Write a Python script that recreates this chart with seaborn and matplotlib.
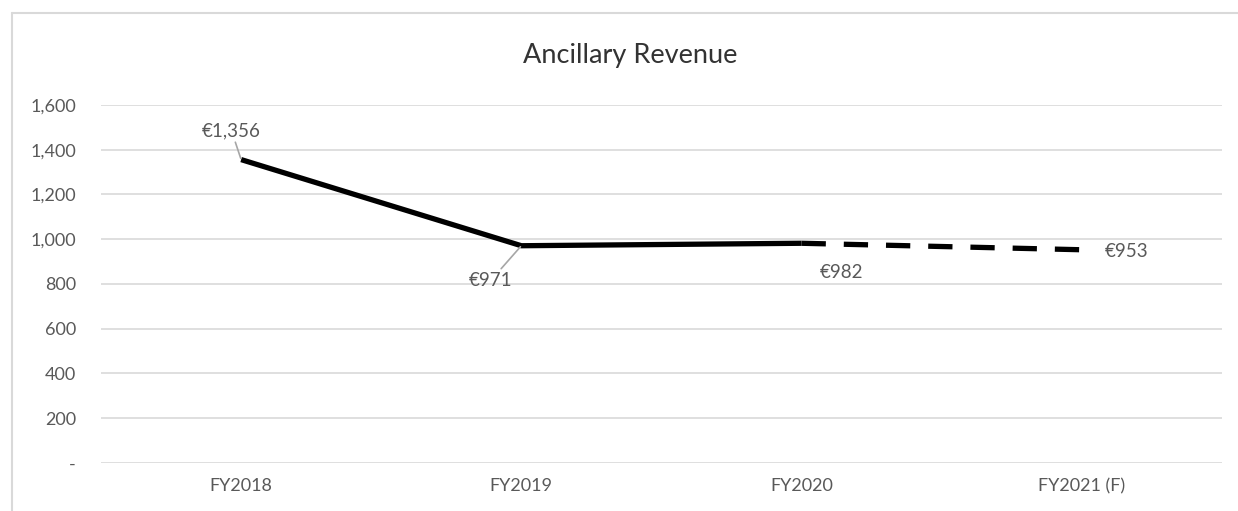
import numpy as np
import pandas as pd
import seaborn as sns
import matplotlib.pyplot as plt
from matplotlib.lines import Line2D
from matplotlib.ticker import FuncFormatter

years = ["FY2018", "FY2019", "FY2020", "FY2021 (F)"]
revenue = [1356, 971, 982, 953]
labels = ["€1,356", "€971", "€982", "€953"]

df = pd.DataFrame({"pos": np.arange(len(years)), "year": years, "rev": revenue})

sns.set_theme(style="white")
plt.rcParams["font.family"] = ["Lato", "DejaVu Sans"]
grey = "#595959"

fig = plt.figure(figsize=(12.38, 5.11), dpi=100)
ax = fig.add_axes([0.0816, 0.094, 0.9054, 0.7005])

# actuals solid, forecast dashed
sns.lineplot(data=df.iloc[:3], x="pos", y="rev", ax=ax, color="black", lw=3.8,
             solid_capstyle="butt")
sns.lineplot(data=df.iloc[2:], x="pos", y="rev", ax=ax, color="black", lw=3.8,
             dashes=False, linestyle=(0, (4.6, 3.4)))

ax.set_xlim(-0.5, 3.5)
ax.set_ylim(0, 1600)
ax.set_yticks(np.arange(0, 1601, 200))
ax.yaxis.set_major_formatter(FuncFormatter(lambda v, p: "-" if v == 0 else f"{v:,.0f}"))
ax.set_xticks(df.pos)
ax.set_xticklabels(years)
ax.grid(axis="y", color="#d9d9d9", lw=1.2)
ax.set_axisbelow(True)
for s in ax.spines.values():
    s.set_visible(False)
ax.tick_params(axis="both", colors=grey, labelsize=13, length=0)
ax.tick_params(axis="y", pad=18)
ax.tick_params(axis="x", pad=11)
ax.set_xlabel("")
ax.set_ylabel("")

# data labels (offsets in points)
offsets = [(-7, 21), (-22, -25), (29, -21), (32, -1.5)]
leader = [True, True, False, False]
for i in range(len(years)):
    ax.annotate(labels[i], (df.pos[i], df.rev[i]), xytext=offsets[i], textcoords="offset points",
                ha="center", va="center", color=grey, fontsize=13.5,
                arrowprops=dict(arrowstyle="-", color="#a6a6a6", lw=1.2, shrinkA=0, shrinkB=1) if leader[i] else None)

fig.text(0.509, 0.892, "Ancillary Revenue", ha="center", va="center", fontsize=19.5, color="#333333")

# chart frame (cropped on right and bottom)
fig.add_artist(Line2D([0.0093, 0.0093], [0, 0.975], color="#d9d9d9", lw=1.5))
fig.add_artist(Line2D([0.0093, 1], [0.975, 0.975], color="#d9d9d9", lw=1.5))

fig.savefig("out.png", dpi=100)
